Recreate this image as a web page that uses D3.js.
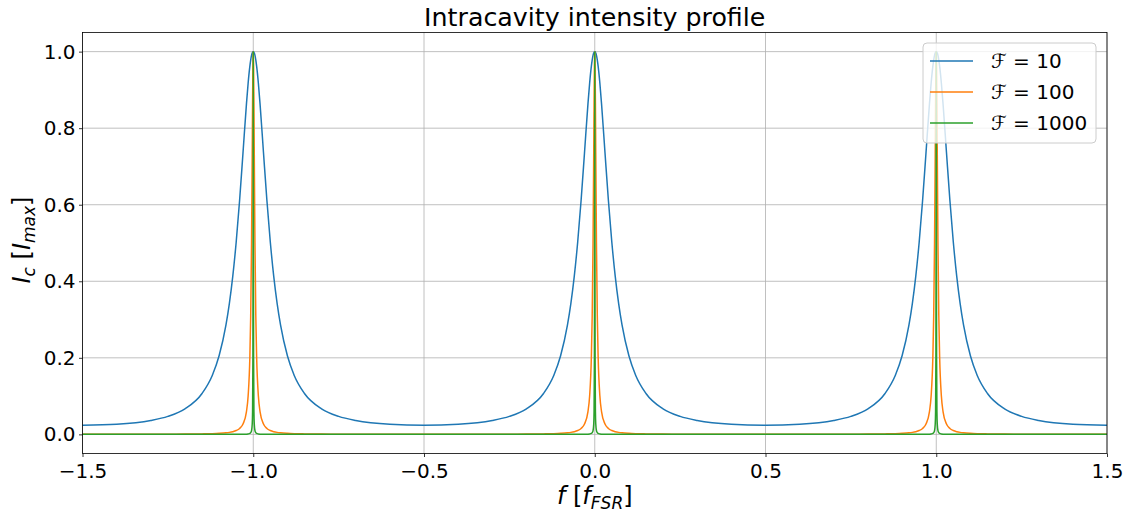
<!DOCTYPE html>
<html><head><meta charset="utf-8">
<script src="https://cdn.jsdelivr.net/npm/d3@7"></script>
<style>body{margin:0;background:#fff}svg{display:block}text{font-family:"DejaVu Sans",sans-serif}</style>
</head><body><svg id="c" width="1128" height="516"></svg>
<script>
const titleText = "Intracavity intensity profile";
const xTicks = [-1.5, -1.0, -0.5, 0.0, 0.5, 1.0, 1.5];
const yTicks = [0.0, 0.2, 0.4, 0.6, 0.8, 1.0];
const seriesNames = ["10", "100", "1000"];
const seriesColors = ["#1f77b4", "#ff7f0e", "#2ca02c"];
const freq = [-1.5,-1.4,-1.3,-1.25,-1.2,-1.15,-1.12,-1.1,-1.08,-1.07,-1.06,-1.05,-1.04,-1.03,-1.02,-1.015,-1.01,-1.0075,-1.005,-1.003,-1.002,-1.001,-1.0005,-1,-0.9995,-0.999,-0.998,-0.997,-0.995,-0.9925,-0.99,-0.985,-0.98,-0.97,-0.96,-0.95,-0.94,-0.93,-0.92,-0.9,-0.88,-0.85,-0.8,-0.75,-0.7,-0.6,-0.5,
-0.4,-0.3,-0.25,-0.2,-0.15,-0.12,-0.1,-0.08,-0.07,-0.06,-0.05,-0.04,-0.03,-0.02,-0.015,-0.01,-0.0075,-0.005,-0.003,-0.002,-0.001,-0.0005,0,0.0005,0.001,0.002,0.003,0.005,0.0075,0.01,0.015,0.02,0.03,0.04,0.05,0.06,0.07,0.08,0.1,0.12,0.15,0.2,0.25,0.3,0.4,0.5,
0.6,0.7,0.75,0.8,0.85,0.88,0.9,0.92,0.93,0.94,0.95,0.96,0.97,0.98,0.985,0.99,0.9925,0.995,0.997,0.998,0.999,0.9995,1,1.0005,1.001,1.002,1.003,1.005,1.0075,1.01,1.015,1.02,1.03,1.04,1.05,1.06,1.07,1.08,1.1,1.12,1.15,1.2,1.25,1.3,1.4,1.5];
const intensityF10 = [0.0241,0.0266,0.0363,0.0470,0.0667,0.1069,0.1540,0.2053,0.2852,0.3415,0.4127,0.5021,0.6110,0.7359,0.8622,0.9175,0.9615,0.9780,0.9901,0.9964,0.9984,0.9996,0.9999,1,0.9999,0.9996,0.9984,0.9964,0.9901,0.9780,0.9615,0.9175,0.8622,0.7359,0.6110,0.5021,0.4127,0.3415,0.2852,0.2053,0.1540,0.1069,0.0667,0.0470,0.0363,0.0266,0.0241,
0.0266,0.0363,0.0470,0.0667,0.1069,0.1540,0.2053,0.2852,0.3415,0.4127,0.5021,0.6110,0.7359,0.8622,0.9175,0.9615,0.9780,0.9901,0.9964,0.9984,0.9996,0.9999,1,0.9999,0.9996,0.9984,0.9964,0.9901,0.9780,0.9615,0.9175,0.8622,0.7359,0.6110,0.5021,0.4127,0.3415,0.2852,0.2053,0.1540,0.1069,0.0667,0.0470,0.0363,0.0266,0.0241,
0.0266,0.0363,0.0470,0.0667,0.1069,0.1540,0.2053,0.2852,0.3415,0.4127,0.5021,0.6110,0.7359,0.8622,0.9175,0.9615,0.9780,0.9901,0.9964,0.9984,0.9996,0.9999,1,0.9999,0.9996,0.9984,0.9964,0.9901,0.9780,0.9615,0.9175,0.8622,0.7359,0.6110,0.5021,0.4127,0.3415,0.2852,0.2053,0.1540,0.1069,0.0667,0.0470,0.0363,0.0266,0.0241];
const intensityF100 = [0.0002,0.0003,0.0004,0.0005,0.0007,0.0012,0.0018,0.0026,0.0040,0.0052,0.0070,0.0100,0.0155,0.0271,0.0589,0.1001,0.2001,0.3077,0.5000,0.7353,0.8621,0.9615,0.9901,1,0.9901,0.9615,0.8621,0.7353,0.5000,0.3077,0.2001,0.1001,0.0589,0.0271,0.0155,0.0100,0.0070,0.0052,0.0040,0.0026,0.0018,0.0012,0.0007,0.0005,0.0004,0.0003,0.0002,
0.0003,0.0004,0.0005,0.0007,0.0012,0.0018,0.0026,0.0040,0.0052,0.0070,0.0100,0.0155,0.0271,0.0589,0.1001,0.2001,0.3077,0.5000,0.7353,0.8621,0.9615,0.9901,1,0.9901,0.9615,0.8621,0.7353,0.5000,0.3077,0.2001,0.1001,0.0589,0.0271,0.0155,0.0100,0.0070,0.0052,0.0040,0.0026,0.0018,0.0012,0.0007,0.0005,0.0004,0.0003,0.0002,
0.0003,0.0004,0.0005,0.0007,0.0012,0.0018,0.0026,0.0040,0.0052,0.0070,0.0100,0.0155,0.0271,0.0589,0.1001,0.2001,0.3077,0.5000,0.7353,0.8621,0.9615,0.9901,1,0.9901,0.9615,0.8621,0.7353,0.5000,0.3077,0.2001,0.1001,0.0589,0.0271,0.0155,0.0100,0.0070,0.0052,0.0040,0.0026,0.0018,0.0012,0.0007,0.0005,0.0004,0.0003,0.0002];
const intensityF1000 = [0,0,0,0,0,0,0,0,0,0.0001,0.0001,0.0001,0.0002,0.0003,0.0006,0.0011,0.0025,0.0044,0.0099,0.0270,0.0588,0.2000,0.5000,1,0.5000,0.2000,0.0588,0.0270,0.0099,0.0044,0.0025,0.0011,0.0006,0.0003,0.0002,0.0001,0.0001,0.0001,0,0,0,0,0,0,0,0,0,
0,0,0,0,0,0,0,0,0.0001,0.0001,0.0001,0.0002,0.0003,0.0006,0.0011,0.0025,0.0044,0.0099,0.0270,0.0588,0.2000,0.5000,1,0.5000,0.2000,0.0588,0.0270,0.0099,0.0044,0.0025,0.0011,0.0006,0.0003,0.0002,0.0001,0.0001,0.0001,0,0,0,0,0,0,0,0,0,
0,0,0,0,0,0,0,0,0.0001,0.0001,0.0001,0.0002,0.0003,0.0006,0.0011,0.0025,0.0044,0.0099,0.0270,0.0588,0.2000,0.5000,1,0.5000,0.2000,0.0588,0.0270,0.0099,0.0044,0.0025,0.0011,0.0006,0.0003,0.0002,0.0001,0.0001,0.0001,0,0,0,0,0,0,0,0,0];
const seriesValues = [intensityF10, intensityF100, intensityF1000];

const svg = d3.select("#c");
svg.append("rect").attr("width",1128).attr("height",516).attr("fill","#fff");
const L = 82.5, R = 1107, T = 32.5, B = 453.5;
const x = d3.scaleLinear().domain([-1.5, 1.5]).range([L, R]);
const y = d3.scaleLinear().domain([-0.05, 1.05]).range([B, T]);

// grid
const g = svg.append("g");
g.selectAll(".gx").data(xTicks).join("line")
  .attr("x1", d => x(d)).attr("x2", d => x(d)).attr("y1", T).attr("y2", B)
  .attr("stroke", "#b0b0b0").attr("stroke-width", 0.8);
g.selectAll(".gy").data(yTicks).join("line")
  .attr("y1", d => y(d)).attr("y2", d => y(d)).attr("x1", L).attr("x2", R)
  .attr("stroke", "#b0b0b0").attr("stroke-width", 0.8);

svg.append("defs").append("clipPath").attr("id", "clip")
  .append("rect").attr("x", L).attr("y", T).attr("width", R - L).attr("height", B - T);

const line = d3.line().x((d, i) => x(freq[i])).y(d => y(d)).curve(d3.curveMonotoneX);
svg.append("g").attr("clip-path", "url(#clip)").selectAll("path").data(seriesValues).join("path")
  .attr("d", d => line(d)).attr("fill", "none")
  .attr("stroke", (d, i) => seriesColors[i]).attr("stroke-width", 1.5)
  .attr("stroke-linejoin", "round").attr("stroke-linecap", "square");

// axes
const fmt = d3.format(".1f");
const ax = svg.append("g").attr("transform", `translate(0,${B})`)
  .call(d3.axisBottom(x).tickValues(xTicks).tickFormat(fmt).tickSize(3.5).tickPadding(3.5));
const ay = svg.append("g").attr("transform", `translate(${L},0)`)
  .call(d3.axisLeft(y).tickValues(yTicks).tickFormat(fmt).tickSize(3.5).tickPadding(3.5));
[ax, ay].forEach(a => {
  a.select(".domain").remove();
  a.selectAll(".tick line").attr("stroke", "#000").attr("stroke-width", 0.8);
  a.selectAll(".tick text").attr("font-family", "DejaVu Sans").attr("font-size", 20).attr("fill", "#000");
});
ax.selectAll(".tick text").attr("dy", "0.85em");

svg.append("rect").attr("x", L).attr("y", T).attr("width", R - L).attr("height", B - T)
  .attr("fill", "none").attr("stroke", "#000").attr("stroke-width", 0.8);

// title
svg.append("text").attr("x", (L + R) / 2).attr("y", 26).attr("text-anchor", "middle")
  .attr("font-size", 25.3).text(titleText);

// x label
const xl = svg.append("text").attr("x", (L + R) / 2).attr("y", 504).attr("text-anchor", "middle")
  .attr("font-size", 24);
xl.append("tspan").attr("font-style", "italic").text("f");
xl.append("tspan").text(" [");
xl.append("tspan").attr("font-style", "italic").text("f");
xl.append("tspan").attr("font-style", "italic").attr("font-size", 17).attr("dy", 5).text("FSR");
xl.append("tspan").attr("dy", -5).text("]");

// y label
const yl = svg.append("text").attr("transform", `translate(30,${(T + B) / 2 - 3}) rotate(-90)`)
  .attr("text-anchor", "middle").attr("font-size", 24);
yl.append("tspan").attr("font-style", "italic").text("I");
yl.append("tspan").attr("font-style", "italic").attr("font-size", 17).attr("dy", 5).text("c");
yl.append("tspan").attr("dy", -5).text(" [");
yl.append("tspan").attr("font-style", "italic").text("I");
yl.append("tspan").attr("font-style", "italic").attr("font-size", 17).attr("dy", 5).text("max");
yl.append("tspan").attr("dy", -5).text("]");

// legend
const lg = svg.append("g");
lg.append("rect").attr("x", 923).attr("y", 43).attr("width", 173).attr("height", 100).attr("rx", 4)
  .attr("fill", "#fff").attr("fill-opacity", 0.8).attr("stroke", "#cccccc").attr("stroke-width", 1);
seriesNames.forEach((n, i) => {
  const yy = 61 + i * 31;
  lg.append("line").attr("x1", 930).attr("x2", 973).attr("y1", yy).attr("y2", yy)
    .attr("stroke", seriesColors[i]).attr("stroke-width", 1.5);
  const t = lg.append("text").attr("x", 991).attr("y", yy + 7).attr("font-size", 20);
  t.append("tspan").attr("font-style", "italic").text("\u2131");
  t.append("tspan").text(" = " + n);
});
</script></body></html>
